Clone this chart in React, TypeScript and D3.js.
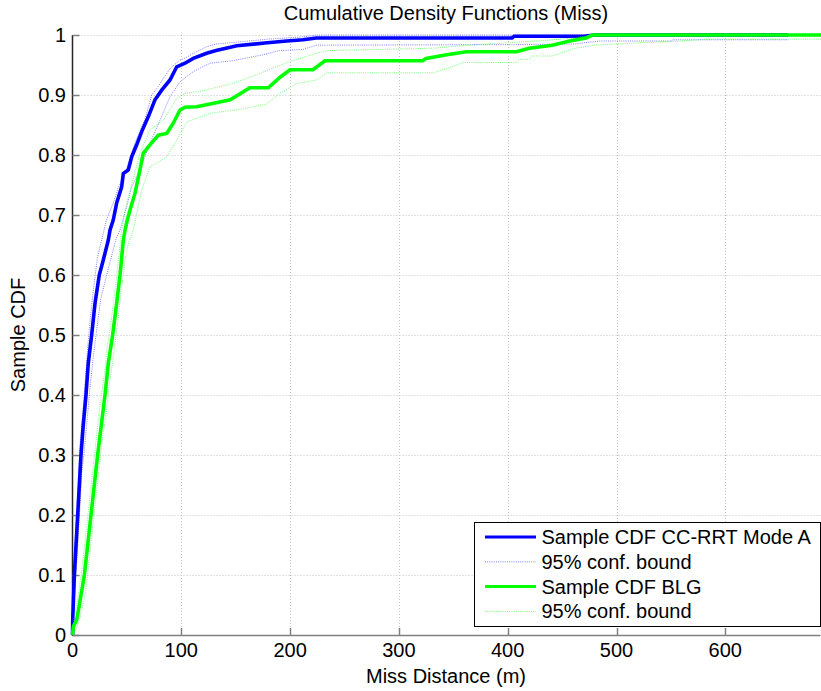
import React from "react";
import * as d3 from "d3";

// ---- data (Miss distance in m, sample CDF) ----
const xTicks = [0, 100, 200, 300, 400, 500, 600];
const yTicks = [0, 0.1, 0.2, 0.3, 0.4, 0.5, 0.6, 0.7, 0.8, 0.9, 1];
const yTickLabels = ["0", "0.1", "0.2", "0.3", "0.4", "0.5", "0.6", "0.7", "0.8", "0.9", "1"];

const blueCdf: [number, number][] = [
  [0, 0], [0.2, 0.025], [1.7, 0.1], [4.8, 0.2], [7.8, 0.3], [9.9, 0.35], [12.4, 0.4], [14.5, 0.453],
  [17.6, 0.5], [20.7, 0.553], [24.6, 0.6], [28.3, 0.625], [32.9, 0.658], [34.5, 0.675], [37.5, 0.692],
  [40.6, 0.72], [45.2, 0.747], [46.7, 0.769], [51.3, 0.775], [54.4, 0.797], [59, 0.817], [63.6, 0.839],
  [69.7, 0.864], [75.8, 0.892], [82, 0.908], [89.6, 0.925], [95.8, 0.947], [103.4, 0.953], [111, 0.961],
  [123.3, 0.9695], [132, 0.974], [151, 0.982], [179, 0.987], [197, 0.99], [212, 0.992], [224, 0.995],
  [404, 0.995], [406, 0.998], [470, 0.998], [480, 1], [658, 1],
];
const blueUpper: [number, number][] = [
  [0, 0.01], [0.2, 0.04], [1.5, 0.12], [4.2, 0.22], [7, 0.32], [9.5, 0.37], [12, 0.43], [14, 0.48],
  [16.5, 0.53], [19.5, 0.58], [23, 0.63], [27, 0.66], [31, 0.69], [34, 0.705], [37.5, 0.72], [42, 0.745],
  [48.3, 0.77], [52, 0.79], [57.4, 0.82], [62, 0.84], [66.6, 0.86], [72.8, 0.9], [78, 0.912], [83.5, 0.928],
  [90, 0.945], [98.8, 0.958], [105, 0.963], [111, 0.9695], [123.3, 0.9805], [132, 0.985], [151, 0.988],
  [179, 0.993], [212, 0.997], [224, 1], [658, 1],
];
const blueLower: [number, number][] = [
  [0, 0], [1, 0.06], [2.5, 0.08], [5.5, 0.17], [8.5, 0.27], [11, 0.31], [13.5, 0.36], [16.5, 0.42],
  [19.5, 0.47], [23, 0.52], [26, 0.56], [30, 0.59], [35, 0.625], [40, 0.66], [43.7, 0.675], [49.8, 0.714],
  [54.4, 0.747], [62, 0.775], [71.2, 0.8195], [80.4, 0.858], [89.6, 0.897], [98.8, 0.922], [111, 0.939],
  [126.4, 0.953], [147, 0.957], [175, 0.967], [190, 0.974], [212, 0.976], [224, 0.983], [405, 0.984],
  [463, 0.985], [470, 0.987], [485, 0.99], [550, 0.99], [552, 0.992], [658, 0.992],
];
const greenCdf: [number, number][] = [
  [0, 0], [0.8, 0.014], [3.8, 0.025], [6.3, 0.05], [10.9, 0.1], [17, 0.2], [23.1, 0.3], [26.5, 0.35],
  [29.9, 0.4], [32.9, 0.453], [36.9, 0.5], [40.6, 0.553], [43.7, 0.6], [46.7, 0.658], [48.3, 0.675],
  [50.4, 0.692], [52.8, 0.708], [57.4, 0.736], [62, 0.775], [65, 0.803], [71.2, 0.817], [78.9, 0.833],
  [86.6, 0.836], [92.6, 0.853], [98.8, 0.875], [103.4, 0.8795], [114, 0.8805], [126.4, 0.885],
  [145, 0.892], [163, 0.912], [180, 0.912], [191, 0.93], [200, 0.942], [221, 0.942], [232, 0.957],
  [322, 0.957], [325, 0.961], [344, 0.967], [362, 0.972], [408, 0.972], [420, 0.978], [441, 0.983],
  [457, 0.99], [472, 0.995], [478, 1], [688, 1],
];
const greenUpper: [number, number][] = [
  [0, 0.005], [0.8, 0.025], [3.5, 0.045], [6, 0.075], [10, 0.13], [16, 0.23], [22, 0.33], [25, 0.38],
  [29, 0.43], [32, 0.48], [36, 0.53], [39.5, 0.58], [42.5, 0.63], [45.5, 0.68], [48.5, 0.71], [52, 0.735],
  [55.9, 0.76], [62, 0.803], [71.2, 0.842], [83.5, 0.858], [95.8, 0.894], [103.4, 0.903], [117, 0.906],
  [147, 0.919], [171, 0.935], [187, 0.947], [202, 0.957], [226, 0.9705], [235, 0.974], [332, 0.978],
  [362, 0.983], [417, 0.989], [442, 0.992], [460, 0.995], [478.7, 1], [688, 1],
];
const greenLower: [number, number][] = [
  [0, 0], [1, 0.005], [4, 0.012], [7, 0.03], [12, 0.07], [18, 0.17], [24, 0.27], [27, 0.32], [31, 0.37],
  [34, 0.42], [38, 0.47], [41.5, 0.52], [44.5, 0.57], [48, 0.62], [51, 0.65], [55.9, 0.675], [63.6, 0.742],
  [71.2, 0.78], [86.6, 0.797], [95.8, 0.825], [105, 0.855], [126.4, 0.8695], [157, 0.877], [178.5, 0.885],
  [190.7, 0.903], [206, 0.919], [224.4, 0.925], [233.6, 0.937], [331.6, 0.937], [344, 0.944], [359, 0.954],
  [408, 0.954], [410, 0.9595], [420, 0.9595], [422, 0.965], [441, 0.965], [452, 0.972], [462, 0.978],
  [480, 0.983], [520, 0.987], [560, 0.99], [583, 0.993], [688, 0.993],
];

const legendLabels = ["Sample CDF CC-RRT Mode A", "95% conf. bound", "Sample CDF BLG", "95% conf. bound"];

const FONT = "'Liberation Sans', Arial, Helvetica, sans-serif";

export default function App() {
  const W = 821, H = 691;
  const left = 72.5, right = 820.5, top = 35, bottom = 635;
  const x = d3.scaleLinear().domain([0, 687.5]).range([left, right]);
  const y = d3.scaleLinear().domain([0, 1]).range([bottom, top]);
  const line = d3.line<[number, number]>().x(d => x(d[0])).y(d => y(d[1]));

  const series = [
    { d: blueCdf, color: "#0000ff", w: 3.6, dash: undefined, op: 1 },
    { d: blueUpper, color: "#0000ff", w: 1, dash: "1,1.2", op: 0.5 },
    { d: blueLower, color: "#0000ff", w: 1, dash: "1,1.2", op: 0.5 },
    { d: greenCdf, color: "#00ff00", w: 3.6, dash: undefined, op: 1 },
    { d: greenUpper, color: "#00ff00", w: 1, dash: "1,1.2", op: 0.55 },
    { d: greenLower, color: "#00ff00", w: 1, dash: "1,1.2", op: 0.55 },
  ];
  const legendStyles = [series[0], series[1], series[3], series[4]];

  const lgX = 474.5, lgY = 522.5, lgW = 346, lgH = 104, rowH = 24.8;

  return (
    <svg width={W} height={H} style={{ position: "absolute", left: 0, top: 0, background: "#fff" }}
      fontFamily={FONT}>
      <rect x={0} y={0} width={W} height={H} fill="#fff" />
      {/* grid */}
      {xTicks.filter(t => t > 0).map(t => (
        <line key={"gx" + t} x1={Math.round(x(t)) + 0.5} x2={Math.round(x(t)) + 0.5} y1={top} y2={bottom}
          stroke="#c4c4c4" strokeDasharray="1,2" />
      ))}
      {yTicks.filter(t => t > 0).map(t => (
        <line key={"gy" + t} y1={Math.round(y(t)) + 0.5} y2={Math.round(y(t)) + 0.5} x1={left} x2={right}
          stroke="#c4c4c4" strokeDasharray="1,2" />
      ))}
      {/* axes */}
      <line x1={left} x2={right} y1={bottom + 0.5} y2={bottom + 0.5} stroke="#808080" strokeWidth={1.5} />
      <line x1={left} x2={left} y1={top} y2={bottom + 1} stroke="#262626" strokeWidth={1.5} />
      {xTicks.map(t => (
        <line key={"tx" + t} x1={Math.round(x(t)) + 0.5} x2={Math.round(x(t)) + 0.5} y1={bottom} y2={bottom - 7}
          stroke="#808080" strokeWidth={1.5} />
      ))}
      {yTicks.map(t => (
        <line key={"ty" + t} x1={left} x2={left + 7} y1={Math.round(y(t)) + 0.5} y2={Math.round(y(t)) + 0.5}
          stroke="#808080" strokeWidth={1.5} />
      ))}
      {/* tick labels */}
      {xTicks.map(t => (
        <text key={"lx" + t} x={x(t)} y={bottom + 22} fontSize={20} textAnchor="middle" fill="#000">{t}</text>
      ))}
      {yTicks.map((t, i) => (
        <text key={"ly" + t} x={66} y={y(t) + 7} fontSize={20} textAnchor="end" fill="#000">{yTickLabels[i]}</text>
      ))}
      {/* series */}
      {series.map((s, i) => (
        <path key={"s" + i} d={line(s.d) || ""} fill="none" stroke={s.color} strokeWidth={s.w}
          strokeOpacity={s.op} strokeDasharray={s.dash} strokeLinejoin="miter" />
      ))}
      {/* titles */}
      <text x={446} y={20} fontSize={20} textAnchor="middle" fill="#000">Cumulative Density Functions (Miss)</text>
      <text x={446} y={683} fontSize={20} textAnchor="middle" fill="#000">Miss Distance (m)</text>
      <text transform={`translate(25,335) rotate(-90)`} fontSize={20} textAnchor="middle" fill="#000">Sample CDF</text>
      {/* legend */}
      <rect x={lgX} y={lgY} width={lgW} height={lgH} fill="#fff" stroke="#000" strokeWidth={1} />
      {legendLabels.map((lab, i) => {
        const s = legendStyles[i];
        const cy = lgY + 14.5 + i * rowH;
        return (
          <g key={"lg" + i}>
            <line x1={485} x2={536} y1={cy} y2={cy} stroke={s.color} strokeWidth={s.w > 2 ? 3 : 1}
              strokeOpacity={s.op} strokeDasharray={s.dash} />
            <text x={541.5} y={cy + 7} fontSize={20} fill="#000">{lab}</text>
          </g>
        );
      })}
    </svg>
  );
}
